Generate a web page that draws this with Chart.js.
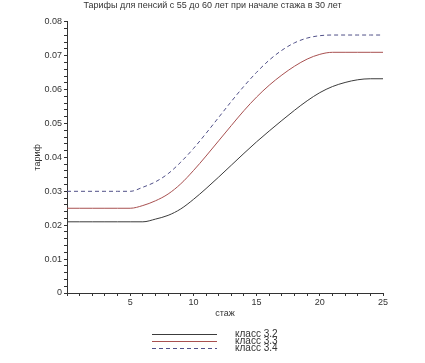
<!DOCTYPE html>
<html>
<head>
<meta charset="utf-8">
<script src="https://cdn.jsdelivr.net/npm/chart.js@4/dist/chart.umd.min.js"></script>
<style>
  html, body { margin: 0; padding: 0; background: #fff; }
  #wrap { width: 425px; height: 363px; }
</style>
</head>
<body>
<div id="wrap"><canvas id="tariffChart" width="425" height="363"></canvas></div>
<script>
const stazh = [0, 1, 2, 3, 4, 5, 6, 7, 8, 9, 10, 11, 12, 13, 14, 15, 16, 17, 18, 19, 20, 21, 22, 23, 24, 25];
const class32 = [0.021, 0.021, 0.021, 0.021, 0.021, 0.021, 0.021, 0.0218, 0.0229, 0.0248, 0.0276, 0.0308, 0.0342, 0.0377, 0.0412, 0.0446, 0.0478, 0.0509, 0.0539, 0.0567, 0.0591, 0.0609, 0.0621, 0.0629, 0.0632, 0.0632];
const class33 = [0.025, 0.025, 0.025, 0.025, 0.025, 0.025, 0.0258, 0.0272, 0.0292, 0.0322, 0.0361, 0.0404, 0.0449, 0.0494, 0.0538, 0.0578, 0.0613, 0.0643, 0.0669, 0.0690, 0.0704, 0.0710, 0.0710, 0.0710, 0.0710, 0.0710];
const class34 = [0.030, 0.030, 0.030, 0.030, 0.030, 0.030, 0.0312, 0.0328, 0.0352, 0.0386, 0.0426, 0.0471, 0.0518, 0.0565, 0.0610, 0.0651, 0.0687, 0.0716, 0.0738, 0.0752, 0.0759, 0.0761, 0.0761, 0.0761, 0.0761, 0.0761];
const seriesNames = ["класс 3.2", "класс 3.3", "класс 3.4"];
const yTicks = [0, 0.01, 0.02, 0.03, 0.04, 0.05, 0.06, 0.07, 0.08];
const xTicks = [5, 10, 15, 20, 25];

const textColor = '#333';
const fontFamily = '"Liberation Sans", Arial, sans-serif';

function points(values) {
    return stazh.map((x, i) => ({ x: x, y: values[i] }));
}

// legend drawn under the x axis title, one row per series
const stackedLegend = {
    id: 'stackedLegend',
    afterDraw(chart) {
        const ctx = chart.ctx;
        ctx.save();
        ctx.font = '10px ' + fontFamily;
        ctx.textBaseline = 'middle';
        chart.data.datasets.forEach(function (ds, i) {
            const y = 334 + i * 7;
            ctx.strokeStyle = ds.borderColor;
            ctx.lineWidth = 1;
            ctx.setLineDash(ds.borderDash || []);
            ctx.beginPath();
            ctx.moveTo(152, y + 0.5);
            ctx.lineTo(217, y + 0.5);
            ctx.stroke();
            ctx.fillStyle = textColor;
            ctx.fillText(ds.label, 235, y);
        });
        ctx.restore();
    }
};

new Chart(document.getElementById('tariffChart').getContext('2d'), {
    type: 'line',
    data: {
        datasets: [{
            label: seriesNames[0],
            data: points(class32),
            borderColor: '#3c3c3c',
            borderWidth: 1,
            pointRadius: 0,
            cubicInterpolationMode: 'monotone'
        }, {
            label: seriesNames[1],
            data: points(class33),
            borderColor: '#a85050',
            borderWidth: 1,
            pointRadius: 0,
            cubicInterpolationMode: 'monotone'
        }, {
            label: seriesNames[2],
            data: points(class34),
            borderColor: '#505088',
            borderWidth: 1,
            borderDash: [4, 3],
            pointRadius: 0,
            cubicInterpolationMode: 'monotone'
        }]
    },
    options: {
        responsive: false,
        animation: false,
        layout: {
            padding: { left: 0, right: 0, top: 0, bottom: 44 }
        },
        plugins: {
            legend: { display: false },
            tooltip: { enabled: false },
            title: {
                display: true,
                text: 'Тарифы для пенсий с 55 до 60 лет при начале стажа в 30 лет',
                color: textColor,
                font: { family: fontFamily, size: 9, weight: 'normal' },
                padding: { top: 0, bottom: 11 }
            }
        },
        scales: {
            x: {
                type: 'linear',
                min: 0,
                max: 25,
                afterFit(scale) { scale.height = 26; },
                border: { color: textColor, width: 1 },
                grid: { drawOnChartArea: false, tickLength: 3, color: textColor },
                ticks: {
                    stepSize: 1,
                    padding: 1,
                    maxRotation: 0,
                    autoSkip: false,
                    color: textColor,
                    font: { family: fontFamily, size: 9 },
                    callback: function (value) {
                        return xTicks.includes(value) ? String(value) : '';
                    }
                },
                title: {
                    display: true,
                    text: 'стаж',
                    color: textColor,
                    font: { family: fontFamily, size: 9 },
                    padding: 0
                }
            },
            y: {
                min: 0,
                max: 0.08,
                afterFit(scale) { scale.width = 67; },
                border: { color: textColor, width: 1 },
                grid: { drawOnChartArea: false, tickLength: 3, color: textColor },
                ticks: {
                    stepSize: 0.002,
                    padding: 2,
                    autoSkip: false,
                    color: textColor,
                    font: { family: fontFamily, size: 9 },
                    callback: function (value) {
                        const hit = yTicks.find(t => Math.abs(t - value) < 1e-9);
                        if (hit === undefined) return '';
                        return hit === 0 ? '0' : hit.toFixed(2);
                    }
                },
                title: {
                    display: true,
                    text: 'тариф',
                    color: textColor,
                    font: { family: fontFamily, size: 9 },
                    padding: { top: 32, bottom: 0 }
                }
            },
            // empty right-hand strip so the plot ends where the reference does
            yRight: {
                position: 'right',
                min: 0,
                max: 0.08,
                afterFit(scale) { scale.width = 42; },
                border: { display: false },
                grid: { display: false },
                ticks: { display: false }
            }
        }
    },
    plugins: [stackedLegend]
});
</script>
</body>
</html>
